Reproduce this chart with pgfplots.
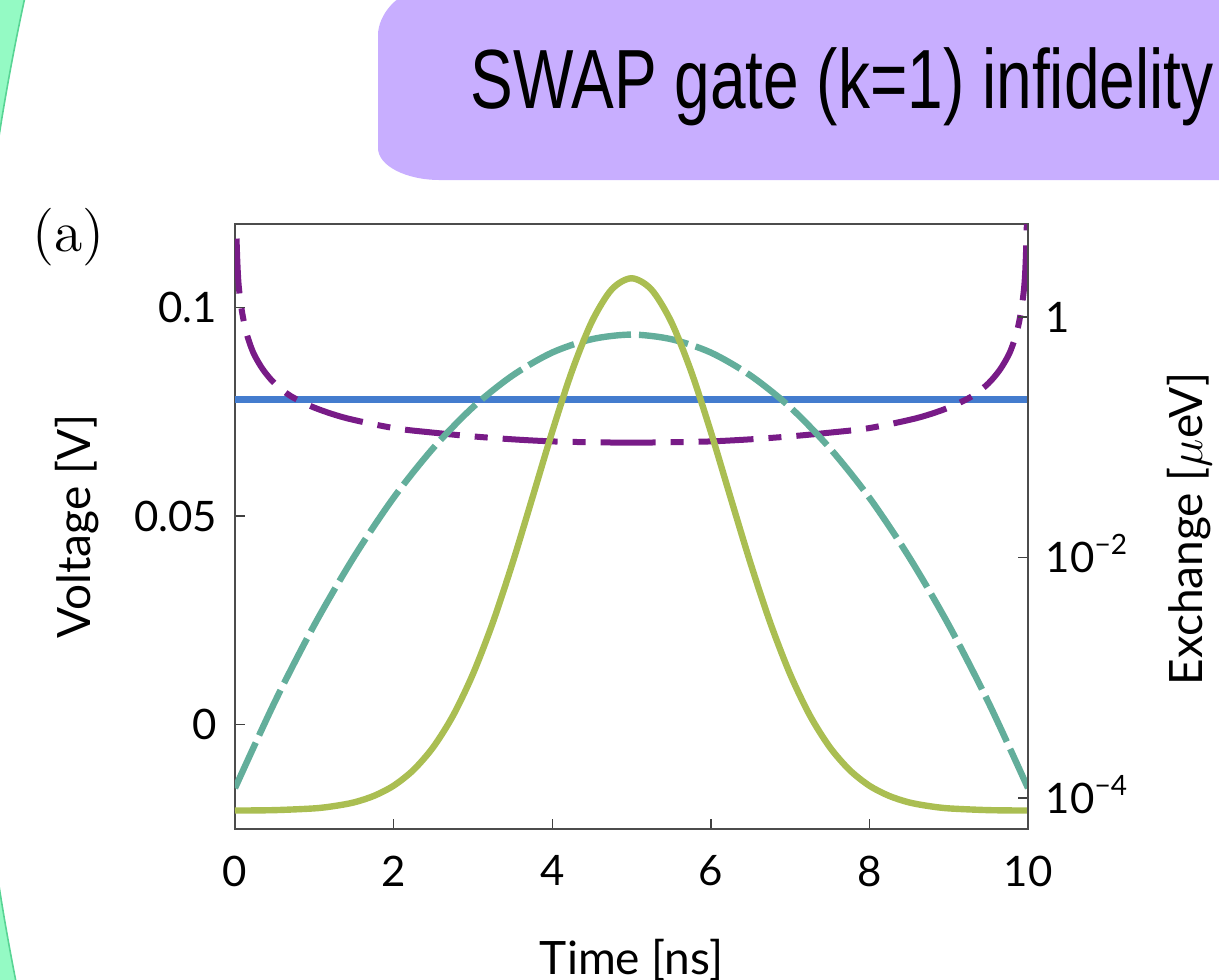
\documentclass[border=0pt]{standalone}
\usepackage{fontspec}
\newfontfamily\lato{Lato}
\newfontfamily\titlefont{Liberation Sans}
\usepackage{pgfplots}
\pgfplotsset{compat=1.18}

\definecolor{mint}{RGB}{148,250,196}
\definecolor{mintedge}{RGB}{88,212,148}
\definecolor{banner}{RGB}{200,174,255}
\definecolor{cpurple}{RGB}{120,27,135}
\definecolor{cblue}{RGB}{68,124,206}
\definecolor{cteal}{RGB}{99,174,155}
\definecolor{colive}{RGB}{170,190,82}

\begin{document}
\begin{tikzpicture}
% 1 px of the reference = 0.25pt
\useasboundingbox (0pt,0pt) rectangle (304.75pt,-244.75pt);
\clip (0pt,0pt) rectangle (304.75pt,-244.75pt);

\begin{scope}[x=0.25pt,y=-0.25pt]
  % mint arc on the left edge: a wide ring whose inner edge is the big circle
  \draw[mint, line width=40pt] (2377,511) circle[radius=621.75pt];
  \draw[mintedge, line width=0.4pt] (2377,511) circle[radius=601.75pt];
  % title banner
  \fill[banner] (1230,-10) -- (423,-10) .. controls (398.1,-10) and (378,14.9) .. (378,35)
    -- (378,148) .. controls (378,165.7) and (405.8,180) .. (440,180) -- (1230,180) -- cycle;
  \node[anchor=base west, inner sep=0pt, xscale=0.762, font=\titlefont\fontsize{21}{24}\selectfont]
    at (470,108) {SWAP gate (k=1) infidelity};
  \node[anchor=base west, inner sep=0pt, font=\fontsize{14.4}{16}\selectfont] at (32,251) {(a)};
\end{scope}

\pgfplotsset{
  panel/.style={
    at={(58.75pt,-207.25pt)}, anchor=south west,
    scale only axis, width=198.25pt, height=151.25pt,
    xmin=0, xmax=10,
    tick align=inside, major tick length=2.6pt,
    axis line style={draw=black!70, line width=0.35pt},
    every tick/.style={black!75, line width=0.35pt},
    tick label style={font=\lato\fontsize{10.5}{12}\selectfont},
    label style={font=\lato\fontsize{11.5}{13}\selectfont},
  }
}

\begin{axis}[panel,
  ymin=-0.025, ymax=0.12,
  xtick pos=bottom, ytick pos=left,
  xtick={0,2,4,6,8,10}, xticklabels={0,2,4,6,8,10},
  ytick={0,0.05,0.1}, yticklabels={0,0.05,0.1},
  xticklabel style={anchor=north, inner sep=0pt, yshift=-6.5pt},
  yticklabel style={anchor=base east, inner sep=0pt, xshift=-4.25pt, yshift=-3.75pt},
  xlabel={Time [ns]},
  xlabel style={at={(axis description cs:0.5,-0.241)}, anchor=base},
  ylabel={Voltage [V]},
  ylabel style={at={(axis description cs:-0.199,0.5)}, anchor=center},
]
% constant level
\addplot[cblue, line width=1.7pt] coordinates {(0,0.078) (10,0.078)};
% dash-dotted
\addplot[cpurple, line width=1.5pt, smooth, dash pattern=on 13.75pt off 3.75pt on 3.25pt off 3.75pt]
  table {
x y
0.003 0.14
0.015 0.12
0.04 0.107
0.08 0.100
0.14 0.0942
0.23 0.0892
0.35 0.0852
0.5 0.0818
0.7 0.0788
1.0 0.0760
1.4 0.0735
2.0 0.0711
2.5 0.0700
3.0 0.0691
3.5 0.0684
4.0 0.0679
4.5 0.0677
5.0 0.0676
5.5 0.0677
6.0 0.0679
6.5 0.0684
7.0 0.0691
7.5 0.0700
8.0 0.0711
8.6 0.0735
9.0 0.0760
9.3 0.0788
9.5 0.0818
9.65 0.0852
9.77 0.0892
9.86 0.0942
9.92 0.100
9.96 0.107
9.985 0.12
9.997 0.14
};
% dashed
\addplot[cteal, line width=1.6pt, smooth, dash pattern=on 12.5pt off 2pt]
  table {
x y
0 -0.0152
0.5 0.0054
1.0 0.0239
1.5 0.0402
2.0 0.0544
2.5 0.0663
3.0 0.0761
3.5 0.0837
4.0 0.0892
4.5 0.0924
5.0 0.0935
5.5 0.0924
6.0 0.0892
6.5 0.0837
7.0 0.0761
7.5 0.0663
8.0 0.0544
8.5 0.0402
9.0 0.0239
9.5 0.0054
10 -0.0152
};
% solid pulse
\addplot[colive, line width=1.6pt, smooth]
  table {
x y
0 -0.02057
0.5 -0.02047
1.0 -0.02005
1.25 -0.01950
1.5 -0.01862
1.75 -0.01707
2.0 -0.01462
2.25 -0.01085
2.5 -0.00537
2.75 0.0022
3.0 0.01213
3.25 0.02442
3.5 0.03876
3.75 0.05439
4.0 0.07021
4.25 0.08479
4.5 0.0966
4.75 0.10432
5.0 0.1070
5.25 0.10432
5.5 0.0966
5.75 0.08479
6.0 0.07021
6.25 0.05439
6.5 0.03876
6.75 0.02442
7.0 0.01213
7.25 0.0022
7.5 -0.00537
7.75 -0.01085
8.0 -0.01462
8.25 -0.01707
8.5 -0.01862
8.75 -0.01950
9.0 -0.02005
9.5 -0.02047
10 -0.02057
};
\end{axis}

\begin{axis}[panel,
  ymode=log, ymin=5.52e-5, ymax=5.935,
  axis x line=none, axis y line*=right,
  ytick={1e-4,1e-2,1},
  yticklabels={10\raisebox{4.4pt}{\fontsize{7}{8}\selectfont −4},10\raisebox{4.4pt}{\fontsize{7}{8}\selectfont −2},1},
  yminorticks=false,
  yticklabel style={anchor=base west, inner sep=0pt, xshift=4.25pt, yshift=-3.75pt},
  ylabel={Exchange [$\mu$eV]},
  ylabel style={at={(axis description cs:1.204,0.496)}, anchor=center},
]
\end{axis}
\end{tikzpicture}
\end{document}
